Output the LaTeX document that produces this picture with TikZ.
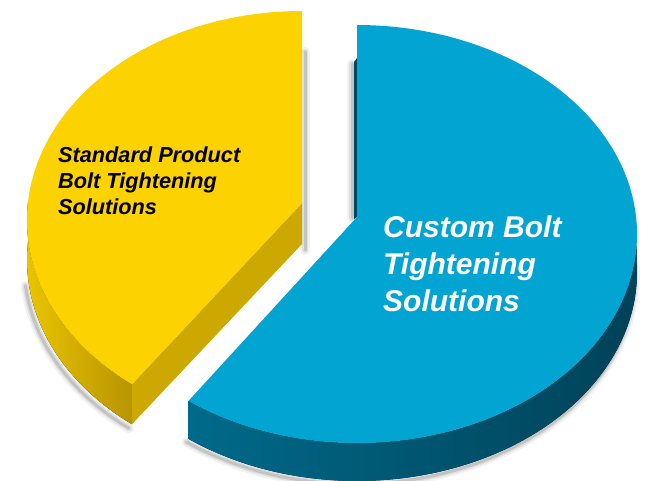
\documentclass[tikz,border=0pt]{standalone}
\usepackage{fontspec}
\setmainfont{Liberation Sans}
\definecolor{ytop}{RGB}{252,210,0}
\definecolor{ycut}{RGB}{204,168,0}
\definecolor{yrimL}{RGB}{234,196,0}
\definecolor{yrimR}{RGB}{184,148,0}
\definecolor{btop}{RGB}{2,164,210}
\definecolor{brimL}{RGB}{0,106,138}
\definecolor{brimM}{RGB}{0,72,96}
\definecolor{brimR}{RGB}{0,66,88}
\begin{document}
\begin{tikzpicture}[x=1pt,y=-1pt,
  softshadow/.style={draw=black,line cap=round,line join=round},
  stdlabel/.style={anchor=base west,inner sep=0pt,text=black,
    font=\fontsize{21.7}{26}\selectfont\bfseries\itshape},
  cuslabel/.style={anchor=base west,inner sep=0pt,text=white,
    font=\fontsize{30}{37}\selectfont\bfseries\itshape}]
\useasboundingbox (0,0) rectangle (654,481);
\fill[white] (0,0) rectangle (654,481);

% ---------- shadows ----------
\foreach \w/\o in {10/0.05,6/0.08,3/0.12}{
  \draw[softshadow,line width=\w pt,opacity=\o]
    plot[domain=186:231.8,samples=60,variable=\t]
      ({302+275*cos(\t)-3},{220-209*sin(\t)+44});
  \draw[softshadow,line width=\w pt,opacity=\o]
    plot[domain=-127:3,samples=80,variable=\t]
      ({357+280*cos(\t)-2},{234-209*sin(\t)+41});
  \draw[softshadow,line width=\w pt,opacity=\o] (305,52) -- (305,250);
  \draw[softshadow,line width=\w pt,opacity=\o] (352,64) -- (352,218);
}

% ---------- yellow slice ----------
\coordinate (YA) at (302,203);
\coordinate (YT) at ({302+275*cos(231.8)},{220-209*sin(231.8)});
\coordinate (YTb) at ({302+275*cos(231.8)},{220-209*sin(231.8)+40});
\coordinate (YAb) at (302,244);
\fill[ycut] (YA) -- (YT) -- (YTb) -- (YAb) -- cycle;
\fill[left color=yrimL,right color=yrimR]
  plot[domain=175:231.8,samples=60,variable=\t]
    ({302+275*cos(\t)},{220-209*sin(\t)})
  -- plot[domain=231.8:175,samples=60,variable=\t]
    ({302+275*cos(\t)},{220-209*sin(\t)+40}) -- cycle;
\fill[ytop] (YA) -- plot[domain=90:231.8,samples=100,variable=\t]
    ({302+275*cos(\t)},{220-209*sin(\t)}) -- cycle;

% ---------- blue slice ----------
\coordinate (BA) at (357,217);
\fill[brimM] (354,62) -- (357,58) -- (357,217) -- (354,219) -- cycle;
\fill[left color=brimL,middle color=brimM,right color=brimR]
  plot[domain=-127:3,samples=100,variable=\t]
    ({357+280*cos(\t)},{234-209*sin(\t)})
  -- plot[domain=3:-127,samples=100,variable=\t]
    ({357+280*cos(\t)},{234-209*sin(\t)+38}) -- cycle;
\fill[btop] (BA) -- plot[domain=90:-127,samples=140,variable=\t]
    ({357+280*cos(\t)},{234-209*sin(\t)}) -- cycle;

% ---------- labels ----------
\node[stdlabel] (std1) at (58,163) {Standard Product};
\node[stdlabel] (std2) at (58,189) {Bolt Tightening};
\node[stdlabel] (std3) at (58,215) {Solutions};
\node[cuslabel] (cus1) at (383,238) {Custom Bolt};
\node[cuslabel] (cus2) at (383,275) {Tightening};
\node[cuslabel] (cus3) at (383,312) {Solutions};
\end{tikzpicture}
\end{document}
